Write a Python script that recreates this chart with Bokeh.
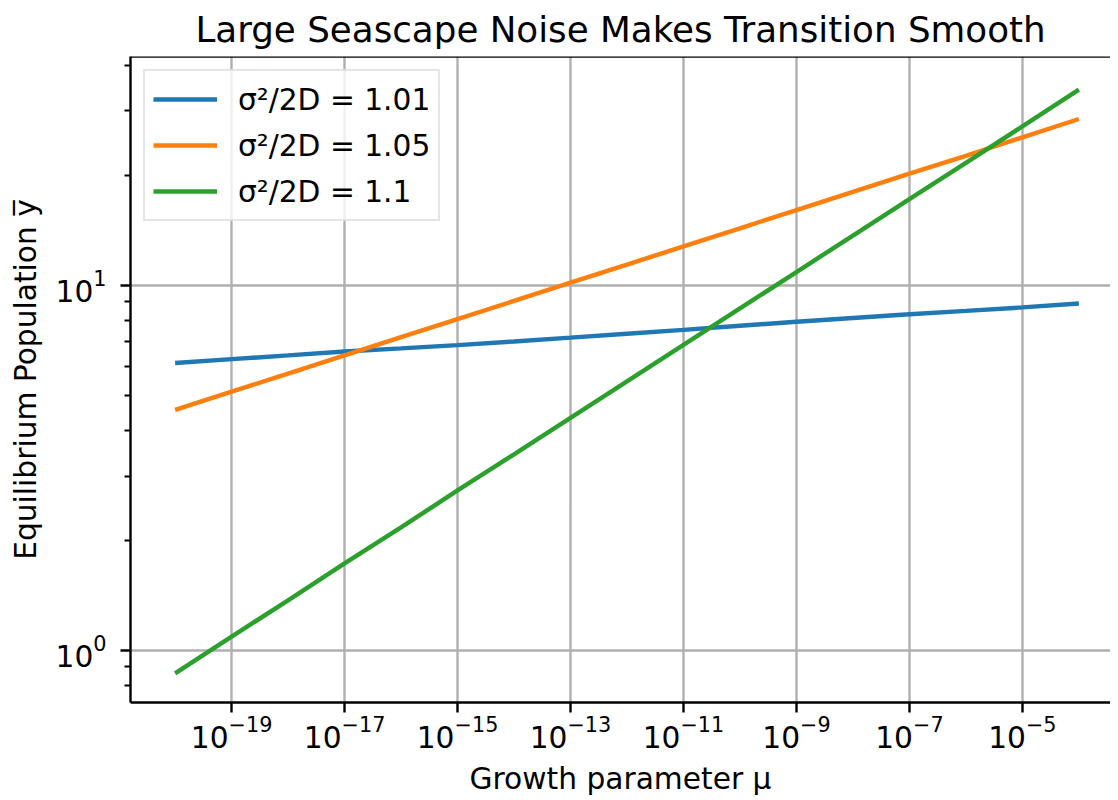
from bokeh.plotting import figure
from bokeh.models import FixedTicker, Span, Range1d, Legend, LegendItem
from bokeh.embed import file_html
from bokeh.resources import INLINE

# data
mu = [1e-20, 1e-19, 1e-18, 1e-17, 1e-16, 1e-15, 1e-14, 1e-13, 1e-12,
      1e-11, 1e-10, 1e-9, 1e-8, 1e-7, 1e-6, 1e-5, 1e-4]
y_101 = [6.12, 6.27, 6.42, 6.58, 6.71, 6.85, 7.01, 7.18, 7.36,
         7.54, 7.74, 7.94, 8.13, 8.32, 8.50, 8.69, 8.91]
y_105 = [4.55, 5.11, 5.72, 6.42, 7.20, 8.07, 9.05, 10.15, 11.38,
         12.76, 14.31, 16.05, 18.0, 20.2, 22.6, 25.4, 28.5]
y_110 = [0.865, 1.09, 1.37, 1.73, 2.17, 2.74, 3.44, 4.33, 5.45,
         6.86, 8.63, 10.86, 13.67, 17.2, 21.6, 27.2, 34.3]
labels = ["σ²/2D = 1.01", "σ²/2D = 1.05", "σ²/2D = 1.1"]
colors = ["#1f77b4", "#ff7f0e", "#2ca02c"]
x_ticks = [1e-19, 1e-17, 1e-15, 1e-13, 1e-11, 1e-9, 1e-7, 1e-5]
y_ticks = [1, 10]
y_minor = [0.8, 0.9, 2, 3, 4, 5, 6, 7, 8, 9, 20, 30, 40]

FS = "29.7px"
FONT = "DejaVu Sans"

y_lo, y_hi = 10 ** -0.143, 10 ** 1.626
p = figure(width=1110, height=798, x_axis_type="log", y_axis_type="log",
           x_range=Range1d(10 ** -20.79, 10 ** -3.44),
           y_range=Range1d(y_lo, y_hi),
           output_backend="svg", toolbar_location=None,
           min_border_left=130, min_border_right=0,
           min_border_top=56, min_border_bottom=96)

p.title.text = "Large Seascape Noise Makes Transition Smooth"
p.title.align = "center"
p.title.text_font = FONT
p.title.text_font_size = "35.7px"
p.title.text_font_style = "normal"
p.title.text_color = "black"
p.title.standoff = 10
p.title.vertical_align = "top"

p.outline_line_color = None
p.background_fill_color = "white"
p.border_fill_color = "white"

items = []
for ys, lab, c in zip([y_101, y_105, y_110], labels, colors):
    r = p.line(mu, ys, line_color=c, line_width=4.46)
    items.append(LegendItem(label=lab, renderers=[r]))

top = Span(location=y_hi, dimension="width", line_color="black", line_width=2.4)
p.add_layout(top)

for ax in (p.xaxis[0], p.yaxis[0]):
    ax.axis_line_color = "black"
    ax.axis_line_width = 2.4
    ax.major_tick_line_color = "black"
    ax.major_tick_line_width = 2.4
    ax.major_tick_in = 0
    ax.major_tick_out = 10
    ax.minor_tick_line_color = "black"
    ax.minor_tick_line_width = 1.8
    ax.minor_tick_in = 0
    ax.minor_tick_out = 6
    ax.major_label_text_font = FONT
    ax.major_label_text_font_size = FS
    ax.major_label_text_color = "black"
    ax.axis_label_text_font = FONT
    ax.axis_label_text_font_size = FS
    ax.axis_label_text_font_style = "normal"
    ax.axis_label_text_color = "black"

p.xaxis.ticker = FixedTicker(ticks=x_ticks, minor_ticks=[])
p.yaxis.ticker = FixedTicker(ticks=y_ticks, minor_ticks=y_minor)
p.xaxis.axis_label = "Growth parameter μ"
p.yaxis.axis_label = "Equilibrium Population y̅"
p.xaxis.major_label_standoff = 2
p.yaxis.major_label_standoff = 14
p.xaxis.axis_label_standoff = 10
p.yaxis.axis_label_standoff = 10

p.xgrid.ticker = FixedTicker(ticks=x_ticks, minor_ticks=[])
p.ygrid.ticker = FixedTicker(ticks=y_ticks, minor_ticks=[])
for g in (p.xgrid[0], p.ygrid[0]):
    g.grid_line_color = "#b0b0b0"
    g.grid_line_width = 2.4
    g.grid_line_alpha = 1.0

legend = Legend(items=items, location="top_left")
legend.label_text_font = FONT
legend.label_text_font_size = FS
legend.label_text_color = "black"
legend.glyph_width = 64
legend.glyph_height = 40
legend.label_height = 40
legend.label_standoff = 21
legend.spacing = 6
legend.padding = 8
legend.margin = 13
legend.border_line_color = "#cccccc"
legend.border_line_width = 2
legend.background_fill_alpha = 0.8
p.add_layout(legend)

open("out.html", "w").write(file_html(p, INLINE))
